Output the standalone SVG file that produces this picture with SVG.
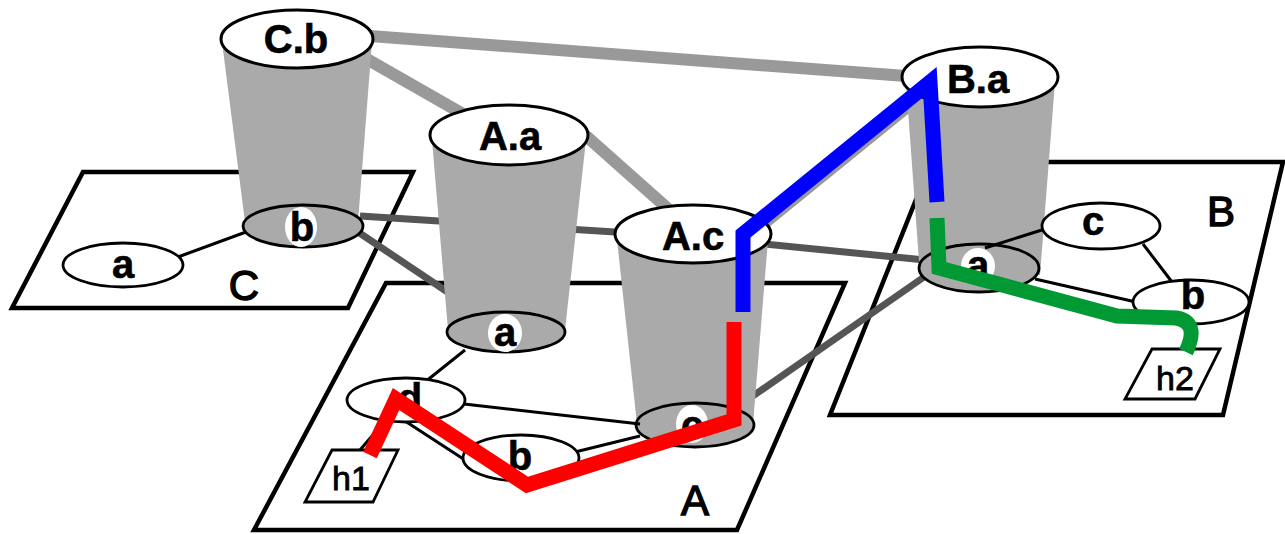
<svg xmlns="http://www.w3.org/2000/svg" width="1285" height="534" viewBox="0 0 1285 534">
<style>
.plane{fill:#fff;stroke:#000;stroke-width:4.5;stroke-linejoin:miter}
.edge{stroke:#000;stroke-width:3;fill:none}
.dk{stroke:#555;stroke-width:7;fill:none}
.lt{stroke:#999;stroke-width:12;fill:none}
.body{fill:#aaa}
.top{fill:#fff;stroke:#000;stroke-width:3}
.bot{fill:#aaa;stroke:#000;stroke-width:2.8}
.node{fill:#fff;stroke:#000;stroke-width:2.8}
.hl{fill:#fff}
text{font-family:"Liberation Sans",Arial,sans-serif;text-anchor:middle;fill:#000}
.lbl{font-weight:bold;font-size:40px;stroke:#000;stroke-width:0.6}
.pl{font-size:42px;stroke:#000;stroke-width:1.4}
.h{font-size:34px;stroke:#000;stroke-width:0.8}
.path{fill:none;stroke-width:15;stroke-linejoin:miter;stroke-linecap:butt}
</style>
<rect width="1285" height="534" fill="#fff"/>
<g id="planes">
  <g id="plane-C"><polygon class="plane" points="83,172 413,172 348,308 12,308"/><text class="pl" x="244" y="300">C</text></g>
  <g id="plane-A"><polygon class="plane" points="386,283 845,283 737,530 254,530"/><text class="pl" x="695" y="515">A</text></g>
  <g id="plane-B"><polygon class="plane" points="931,162 1283,162 1223,415 830,415"/><text class="pl" x="1221" y="226">B</text></g>
</g>
<g id="connectors-inter">
  <polyline class="dk" points="360,216 694,237 925,260"/>
  <line class="dk" x1="358" y1="232" x2="455" y2="297"/>
  <line class="dk" x1="750" y1="398" x2="924" y2="277"/>
  <line class="lt" x1="370" y1="36" x2="906" y2="76"/>
  <line class="lt" x1="365" y1="58" x2="470" y2="118"/>
  <line class="lt" x1="585" y1="135" x2="675" y2="215"/>
  <line class="lt" x1="746" y1="238" x2="933" y2="86"/>
</g>
<g id="C.b">
  <polygon class="body" points="222,42 372,42 358,222 245,222"/>
  <ellipse class="bot" cx="303" cy="226" rx="60" ry="21"/>
  <ellipse class="hl" cx="301" cy="227" rx="16" ry="20"/>
  <text class="lbl" x="302" y="241">b</text>
  <ellipse class="top" cx="297" cy="39" rx="76" ry="29"/>
  <text class="lbl" x="296" y="53">C.b</text>
</g>
<g id="A.a">
  <polygon class="body" points="432,140 586,140 565,330 448,330"/>
  <ellipse class="bot" cx="506" cy="332" rx="59" ry="20"/>
  <ellipse class="hl" cx="505" cy="333" rx="17" ry="19"/>
  <text class="lbl" x="505" y="346">a</text>
  <ellipse class="top" cx="509" cy="135" rx="79" ry="30"/>
  <text class="lbl" x="510" y="150">A.a</text>
</g>
<g id="A.c">
  <polygon class="body" points="617,240 768,240 753,424 637,424"/>
  <ellipse class="bot" cx="695" cy="425" rx="59" ry="22"/>
  <ellipse class="hl" cx="692" cy="424" rx="16" ry="19"/>
  <text class="lbl" x="692" y="439">c</text>
  <ellipse class="top" cx="693" cy="234" rx="78" ry="29"/>
  <text class="lbl" x="693" y="250">A.c</text>
</g>
<g id="B.a">
  <polygon class="body" points="906,82 1055,82 1040,275 920,275"/>
  <ellipse class="bot" cx="979" cy="268" rx="60" ry="24"/>
  <ellipse class="hl" cx="978" cy="266" rx="17" ry="18"/>
  <text class="lbl" x="978" y="279">a</text>
  <ellipse class="top" cx="980" cy="77" rx="78" ry="30"/>
  <text class="lbl" x="978" y="93">B.a</text>
</g>
<g id="connectors">
  <line class="edge" x1="178" y1="257" x2="246" y2="232"/>
  <line class="edge" x1="465" y1="350" x2="425" y2="382"/>
  <line class="edge" x1="464" y1="404" x2="640" y2="424"/>
  <line class="edge" x1="405" y1="421" x2="468" y2="462"/>
  <line class="edge" x1="575" y1="452" x2="640" y2="436"/>
  <line class="edge" x1="360" y1="450" x2="390" y2="415"/>
  <line class="edge" x1="985" y1="248" x2="1045" y2="229"/>
  <line class="edge" x1="1035" y1="279" x2="1136" y2="302"/>
  <line class="edge" x1="1143" y1="244" x2="1172" y2="282"/>
</g>
<g id="C.a"><ellipse class="node" cx="123" cy="265" rx="60" ry="22"/><text class="lbl" x="123" y="278">a</text></g>
<g id="A.d"><ellipse class="node" cx="406" cy="400" rx="59" ry="22"/><text class="lbl" x="410" y="412">d</text></g>
<g id="A.b"><ellipse class="node" cx="521" cy="458" rx="58" ry="23"/><text class="lbl" x="520" y="470">b</text></g>
<g id="h1"><polygon class="node" stroke-width="4" points="332,450 398,450 373,502 305,502"/><text class="h" x="351" y="490">h1</text></g>
<g id="B.c"><ellipse class="node" cx="1101" cy="226" rx="59" ry="23"/><text class="lbl" x="1093" y="235">c</text></g>
<g id="B.b"><ellipse class="node" cx="1191" cy="302" rx="58" ry="22"/><text class="lbl" x="1193" y="309">b</text></g>
<g id="h2"><polygon class="node" stroke-width="4" points="1152,349 1220,349 1195,399 1125,399"/><text class="h" x="1175" y="390">h2</text></g>
<g id="paths">
  <polyline class="path" stroke="#ff0000" points="370,455 396,399 527,485 734,420 734,322"/>
  <polyline class="path" stroke="#0000ff" points="743,312 743,234 930,82 937,202"/>
  <path class="path" stroke="#009933" d="M937,218 L939,268 L1117,316 L1176,318 Q1200,322 1186,352"/>
</g>
</svg>
